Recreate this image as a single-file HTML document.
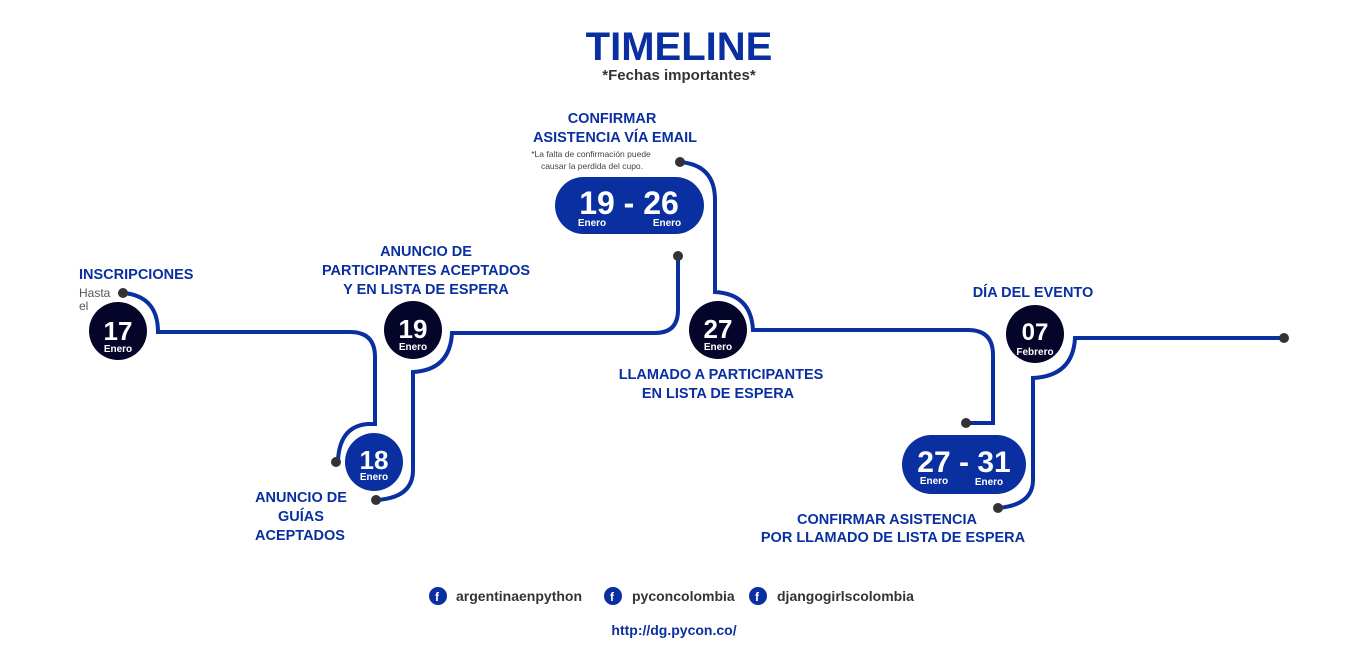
<!DOCTYPE html>
<html><head><meta charset="utf-8"><style>
body{margin:0;background:#fff;}
svg{display:block;font-family:"Liberation Sans",sans-serif;}
.l{fill:#0a2fa0;font-weight:bold;font-size:14.5px;}
</style></head><body>
<svg width="1366" height="664" viewBox="0 0 1366 664">
<text x="679" y="60" text-anchor="middle" fill="#0a2fa0" font-weight="bold" font-size="40">TIMELINE</text>
<text x="679" y="80" text-anchor="middle" fill="#333" font-weight="bold" font-size="15">*Fechas importantes*</text>
<g fill="none" stroke="#0a2fa0" stroke-width="4">
<path d="M123,293 C148,295 158,310 158,332 H350 Q375,332 375,357 V424 H368 Q340,426 338,460"/>
<path d="M376,500 Q413,498 413,470 V372 Q450,370 452,333 H655 Q678,333 678,310 V256"/>
<path d="M680,162 Q715,165 715,200 V292 Q751,294 753,330 H968 Q993,330 993,355 V423 H967"/>
<path d="M998,508 Q1033,505 1033,480 V378 Q1073,376 1075,338 H1284"/>
</g>
<g fill="#333">
<circle cx="123" cy="293" r="5"/><circle cx="336" cy="462" r="5"/><circle cx="376" cy="500" r="5"/>
<circle cx="678" cy="256" r="5"/><circle cx="680" cy="162" r="5"/><circle cx="966" cy="423" r="5"/>
<circle cx="998" cy="508" r="5"/><circle cx="1284" cy="338" r="5"/>
</g>
<g fill="#05052a"><circle cx="118" cy="331" r="29"/><circle cx="413" cy="330" r="29"/><circle cx="718" cy="330" r="29"/><circle cx="1035" cy="334" r="29"/></g>
<circle cx="374" cy="462" r="29" fill="#0a2fa0"/>
<rect x="555" y="177" width="149" height="57" rx="28.5" fill="#0a2fa0"/>
<rect x="902" y="435" width="124" height="59" rx="29.5" fill="#0a2fa0"/>
<g fill="#fff" font-weight="bold" text-anchor="middle">
<text x="118" y="340" font-size="26">17</text><text x="118" y="352" font-size="10">Enero</text>
<text x="413" y="338" font-size="26">19</text><text x="413" y="350" font-size="10">Enero</text>
<text x="718" y="338" font-size="26">27</text><text x="718" y="350" font-size="10">Enero</text>
<text x="1035" y="340" font-size="24">07</text><text x="1035" y="355" font-size="10">Febrero</text>
<text x="374" y="469" font-size="26">18</text><text x="374" y="480" font-size="10">Enero</text>
<text x="629" y="214" font-size="32">19 - 26</text>
<text x="592" y="226" font-size="10">Enero</text><text x="667" y="226" font-size="10">Enero</text>
<text x="964" y="472" font-size="30">27 - 31</text>
<text x="934" y="484" font-size="10">Enero</text><text x="989" y="485" font-size="10">Enero</text>
</g>
<text class="l" x="79" y="279">INSCRIPCIONES</text>
<text x="79" y="297" fill="#555" font-size="12">Hasta</text><text x="79" y="310" fill="#555" font-size="12">el</text>
<g class="l" text-anchor="middle">
<text x="426" y="256">ANUNCIO DE</text><text x="426" y="275">PARTICIPANTES ACEPTADOS</text><text x="426" y="294">Y EN LISTA DE ESPERA</text>
<text x="612" y="123">CONFIRMAR</text><text x="615" y="142">ASISTENCIA VÍA EMAIL</text>
<text x="301" y="502">ANUNCIO DE</text><text x="301" y="521">GUÍAS</text><text x="300" y="540">ACEPTADOS</text>
<text x="721" y="379">LLAMADO A PARTICIPANTES</text><text x="718" y="398">EN LISTA DE ESPERA</text>
<text x="1033" y="297">DÍA DEL EVENTO</text>
<text x="887" y="524">CONFIRMAR ASISTENCIA</text><text x="893" y="542">POR LLAMADO DE LISTA DE ESPERA</text>
</g>
<g fill="#444" font-size="8.5" text-anchor="middle">
<text x="591" y="157">*La falta de confirmación puede</text><text x="592" y="169">causar la perdida del cupo.</text>
</g>
<g font-weight="bold" font-size="14" fill="#333">
<circle cx="438" cy="596" r="9" fill="#0a2fa0"/><text x="435" y="601" fill="#fff" font-size="12">f</text>
<text x="456" y="601">argentinaenpython</text>
<circle cx="613" cy="596" r="9" fill="#0a2fa0"/><text x="610" y="601" fill="#fff" font-size="12">f</text>
<text x="632" y="601">pyconcolombia</text>
<circle cx="758" cy="596" r="9" fill="#0a2fa0"/><text x="755" y="601" fill="#fff" font-size="12">f</text>
<text x="777" y="601">djangogirlscolombia</text>
<text x="674" y="635" text-anchor="middle" fill="#0a2fa0">http://dg.pycon.co/</text>
</g>
</svg>
</body></html>
